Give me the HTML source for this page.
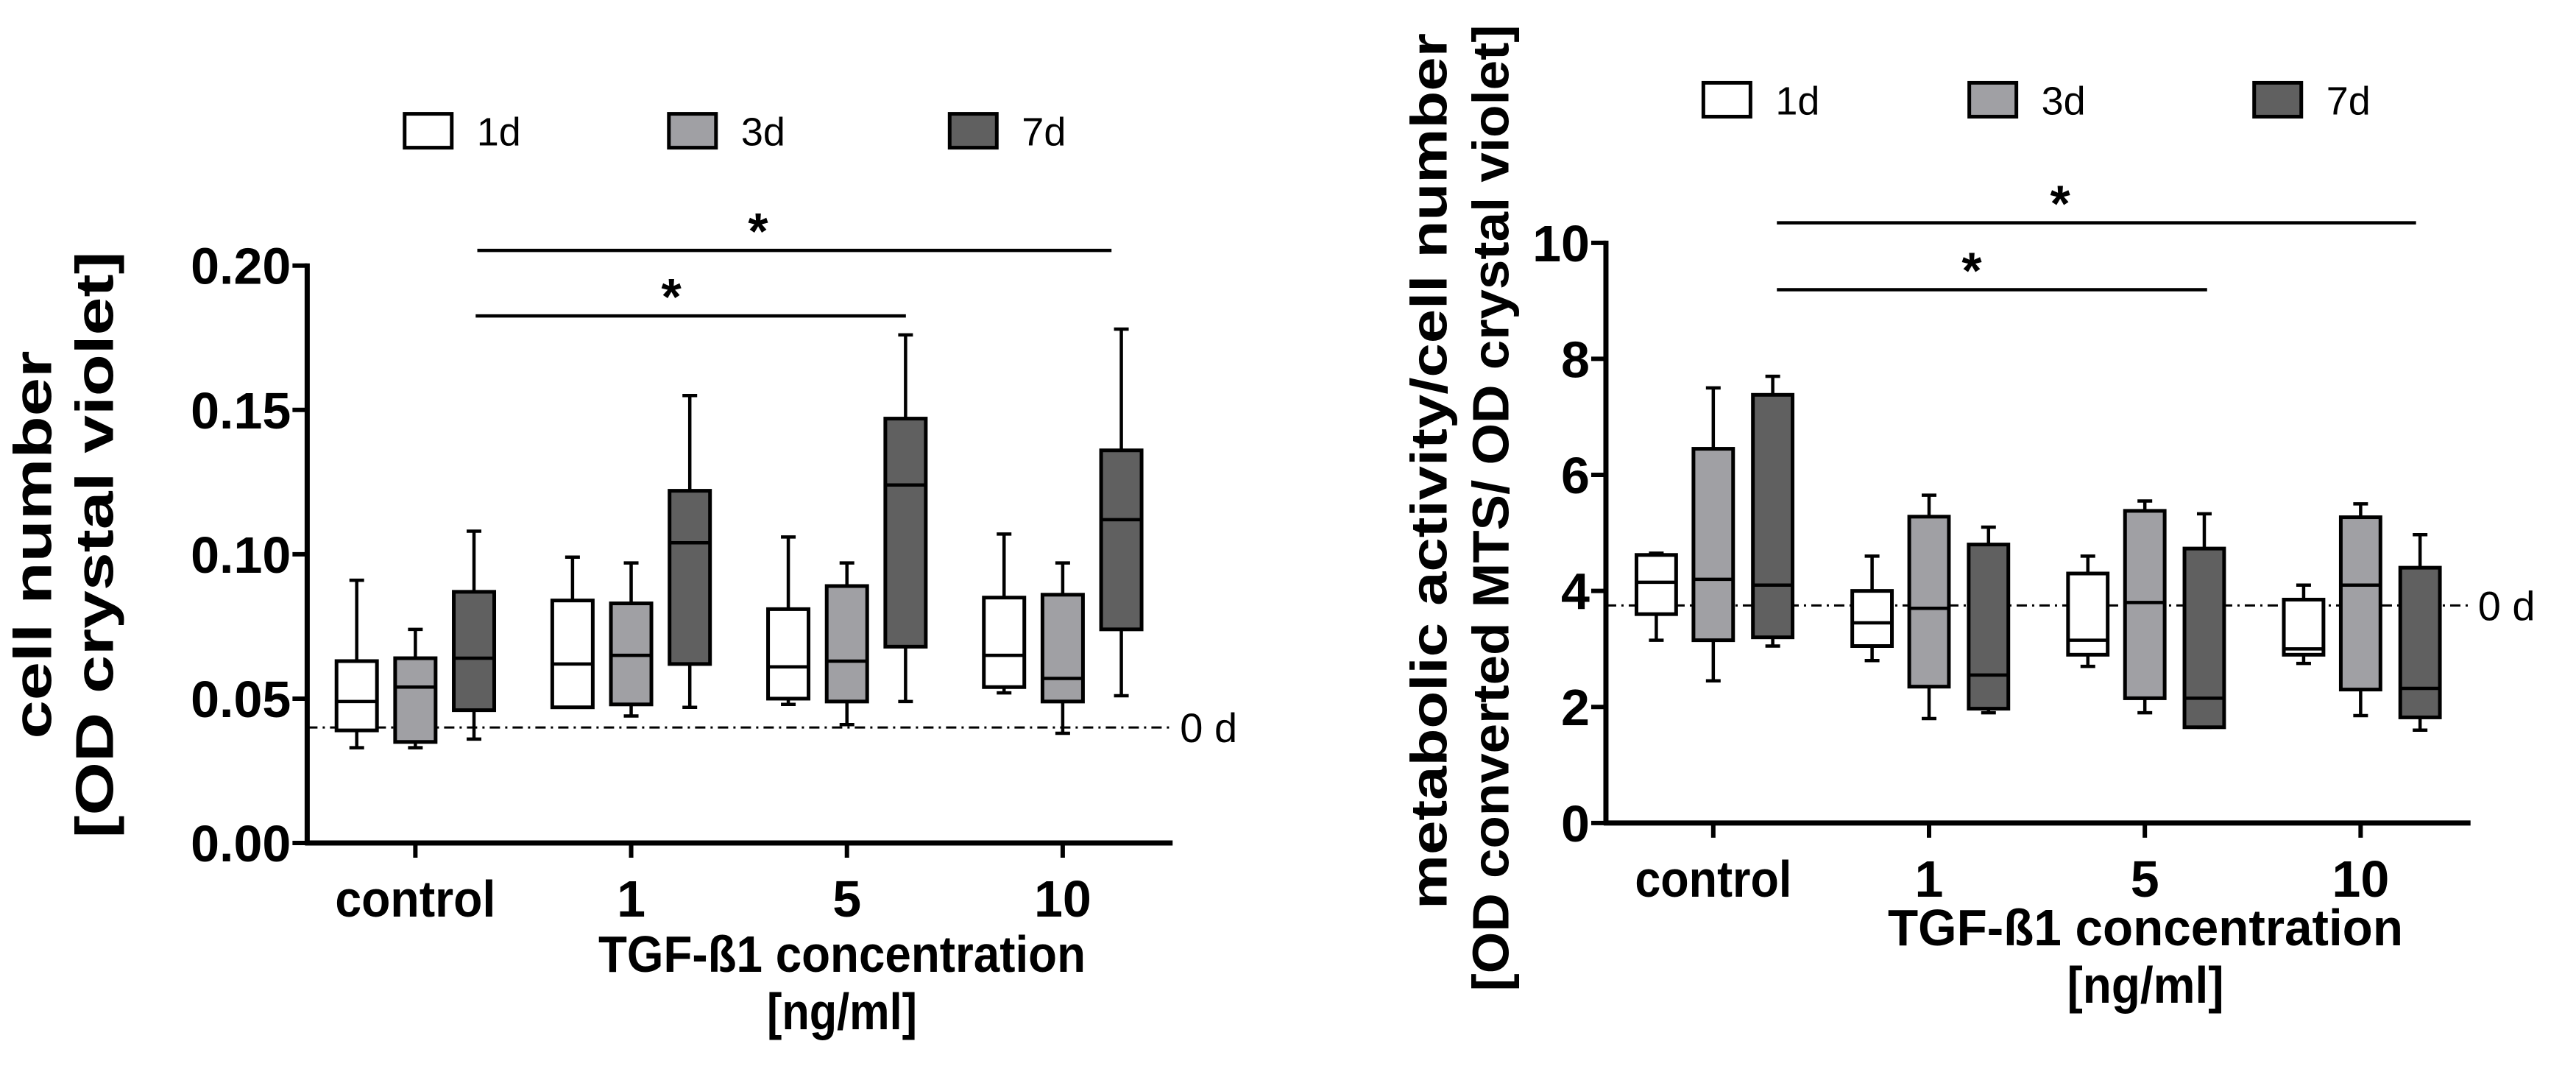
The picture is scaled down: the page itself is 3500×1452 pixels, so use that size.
<!DOCTYPE html>
<html><head><meta charset="utf-8">
<style>
html,body{margin:0;padding:0;background:#fff;width:3500px;height:1452px;overflow:hidden}
svg{display:block;position:absolute;top:0}
text{font-family:"Liberation Sans",sans-serif;fill:#000}
.b{font-weight:bold}
</style></head>
<body>
<svg id="left" style="left:0" width="1750" height="1452"></svg>
<svg id="right" style="left:1750px" width="1750" height="1452"></svg>
<script>
const categories = ["control","1","5","10"];
const seriesNames = ["1d","3d","7d"];
// [min, q1, median, q3, max]
const leftD1 = [[0.033,0.039,0.049,0.063,0.091],[0.047,0.047,0.062,0.084,0.099],[0.048,0.050,0.061,0.081,0.106],[0.052,0.054,0.065,0.085,0.107]];
const leftD3 = [[0.033,0.035,0.054,0.064,0.074],[0.044,0.048,0.065,0.083,0.097],[0.041,0.049,0.063,0.089,0.097],[0.038,0.049,0.057,0.086,0.097]];
const leftD7 = [[0.036,0.046,0.064,0.087,0.108],[0.047,0.062,0.104,0.122,0.155],[0.049,0.068,0.124,0.147,0.176],[0.051,0.074,0.112,0.136,0.178]];
const leftTicks = ["0.00","0.05","0.10","0.15","0.20"];
const leftTickVals = [0,0.05,0.10,0.15,0.20];
const leftBaseline = 0.040;
const rightD1 = [[3.15,3.6,4.15,4.62,4.65],[2.8,3.05,3.45,4.0,4.6],[2.7,2.9,3.15,4.3,4.6],[2.75,2.9,3.0,3.85,4.1]];
const rightD3 = [[2.45,3.15,4.2,6.45,7.5],[1.8,2.35,3.7,5.28,5.65],[1.9,2.15,3.8,5.38,5.55],[1.85,2.3,4.1,5.27,5.5]];
const rightD7 = [[3.05,3.2,4.1,7.38,7.7],[1.9,1.97,2.55,4.8,5.1],[1.65,1.65,2.15,4.73,5.33],[1.6,1.82,2.32,4.4,4.97]];
const rightTicks = ["0","2","4","6","8","10"];
const rightTickVals = [0,2,4,6,8,10];
const rightBaseline = 3.75;

const fills = ["#ffffff","#a0a0a4","#606060"];
const NS = "http://www.w3.org/2000/svg";
const FX = 1.122, FY = 0.937;
const X = v => v * FX, Y = v => v * FY;
function mk(svg, tag, attrs, txt){
  const e = document.createElementNS(NS, tag);
  for (const k in attrs) e.setAttribute(k, attrs[k]);
  if (txt !== undefined) e.textContent = txt;
  svg.appendChild(e); return e;
}

function draw(svg, cfg){
  const y = v => Y(cfg.y0 + (v - cfg.vmin) / (cfg.vmax - cfg.vmin) * (cfg.y1 - cfg.y0));
  const x = (ci, si) => X(cfg.catX + ci * cfg.catStep + cfg.offs[si]);
  seriesNames.forEach((s, i) => {
    const r = mk(svg, "rect", {x: X(cfg.legX[i]), y: Y(cfg.legY), width: 64, height: 46, fill: fills[i], stroke: "#000", "stroke-width": 5});
    
    
    const t = mk(svg, "text", {x: X(cfg.legX[i]) + 98, y: Y(cfg.legY) + 43, "font-size": 54}, s);
    
    
  });
  const by = y(cfg.baseline);
  const bl = mk(svg, "line", {x1: X(cfg.ax), x2: X(cfg.axEnd), y1: by, y2: by, stroke: "#000", "stroke-width": 3, "stroke-dasharray": "14 7 3 7"});
  
  
  const bt = mk(svg, "text", {x: X(cfg.axEnd) + 10, y: by + 20, "font-size": 56}, "0 d");
  
  
  cfg.data.forEach((sd, si) => {
    sd.forEach((d, ci) => {
      const cx = x(ci, si), w = X(cfg.bw);
      const g = mk(svg, "g", {});
      
      
      mk(g, "line", {x1: cx, x2: cx, y1: y(d[4]), y2: y(d[3]), stroke: "#000", "stroke-width": 4.5});
      mk(g, "line", {x1: cx, x2: cx, y1: y(d[1]), y2: y(d[0]), stroke: "#000", "stroke-width": 4.5});
      mk(g, "line", {x1: cx - 10, x2: cx + 10, y1: y(d[4]), y2: y(d[4]), stroke: "#000", "stroke-width": 4.5});
      mk(g, "line", {x1: cx - 10, x2: cx + 10, y1: y(d[0]), y2: y(d[0]), stroke: "#000", "stroke-width": 4.5});
      mk(g, "rect", {x: cx - w/2, y: y(d[3]), width: w, height: y(d[1]) - y(d[3]), fill: fills[si], stroke: "#000", "stroke-width": 5});
      mk(g, "line", {x1: cx - w/2, x2: cx + w/2, y1: y(d[2]), y2: y(d[2]), stroke: "#000", "stroke-width": 4.5});
    });
  });
  const ya = mk(svg, "line", {x1: X(cfg.ax), x2: X(cfg.ax), y1: y(cfg.vmax) - 3, y2: Y(cfg.y0) + 3, stroke: "#000", "stroke-width": 7});
  
  
  const xa = mk(svg, "line", {x1: X(cfg.ax) - 3, x2: X(cfg.axEnd), y1: Y(cfg.y0), y2: Y(cfg.y0), stroke: "#000", "stroke-width": 7});
  
  
  cfg.tickVals.forEach((v, i) => {
    mk(svg, "line", {x1: X(cfg.ax) - 20, x2: X(cfg.ax), y1: y(v), y2: y(v), stroke: "#000", "stroke-width": 6});
    const t = mk(svg, "text", {x: X(cfg.ax) - 22, y: y(v) + 25, "font-size": 70, "text-anchor": "end", "class": "b"}, cfg.ticks[i]);
    
    
  });
  categories.forEach((c, ci) => {
    const cx = x(ci, 1);
    mk(svg, "line", {x1: cx, x2: cx, y1: Y(cfg.y0), y2: Y(cfg.y0) + 20, stroke: "#000", "stroke-width": 6});
    const attrs = {x: cx, y: Y(cfg.y0) + 100, "font-size": 70, "text-anchor": "middle", "class": "b"};
    if (c === "control") { attrs.textLength = cfg.ctrlLen; attrs.lengthAdjust = "spacingAndGlyphs"; }
    const t = mk(svg, "text", attrs, c);
    
    
  });
  cfg.sig.forEach(s => {
    const l = mk(svg, "line", {x1: X(s[0]), x2: X(s[1]), y1: Y(s[2]), y2: Y(s[2]), stroke: "#000", "stroke-width": 4.5});
    
    
    const t = mk(svg, "text", {x: X(s[3]), y: Y(s[2]) - 2, "font-size": 70, "text-anchor": "middle", "class": "b"}, "*");
    
    
  });
  const xt = mk(svg, "text", {x: cfg.xtX, y: cfg.xtY, "font-size": 70, "text-anchor": "middle", "class": "b", textLength: cfg.xtLen[0], lengthAdjust: "spacingAndGlyphs"}, "TGF-ß1 concentration");
  
  
  const xu = mk(svg, "text", {x: cfg.xtX, y: cfg.xtY + 78, "font-size": 70, "text-anchor": "middle", "class": "b", textLength: cfg.xtLen[1], lengthAdjust: "spacingAndGlyphs"}, "[ng/ml]");
  
  
  cfg.ytitle.forEach((s, i) => {
    const t = mk(svg, "text", {x: 0, y: 0, "font-size": cfg.ytSize, "text-anchor": "middle", "class": "b",
      textLength: cfg.ytLen[i], lengthAdjust: "spacingAndGlyphs",
      transform: `translate(${X(cfg.ytX[i])},${cfg.ytY[i]}) rotate(-90)`}, s);
    
    
  });
}

draw(document.getElementById("left"), {
  y0: 1222, y1: 385, vmin: 0, vmax: 0.20, ax: 372, axEnd: 1420,
  catX: 503, catStep: 261.3, offs: [-71, 0, 71], bw: 49, ctrlLen: 218,
  data: [leftD1, leftD3, leftD7], ticks: leftTicks, tickVals: leftTickVals, baseline: leftBaseline,
  legX: [490, 810, 1150], legY: 165,
  sig: [[578, 1346, 363, 918], [576, 1097, 458, 813]],
  xtX: 1144, xtY: 1320, xtLen: [662, 204],
  ytitle: ["cell number", "[OD crystal violet]"], ytX: [62, 137], ytY: [740, 740], ytLen: [527, 797], ytSize: 72
});
draw(document.getElementById("right"), {
  y0: 1193, y1: 352, vmin: 0, vmax: 10, ax: 385, axEnd: 1432,
  catX: 515, catStep: 261.3, offs: [-69, 0, 72], bw: 48, ctrlLen: 213,
  data: [rightD1, rightD3, rightD7], ticks: rightTicks, tickVals: rightTickVals, baseline: rightBaseline,
  legX: [503, 825, 1170], legY: 120,
  sig: [[592, 1366, 323, 935], [592, 1113, 420, 828]],
  xtX: 1165, xtY: 1284, xtLen: [700, 213],
  ytitle: ["metabolic activity/cell number", "[OD converted MTS/ OD crystal violet]"], ytX: [192, 267], ytY: [640, 690], ytLen: [1190, 1313], ytSize: 70
});
</script>
</body></html>
